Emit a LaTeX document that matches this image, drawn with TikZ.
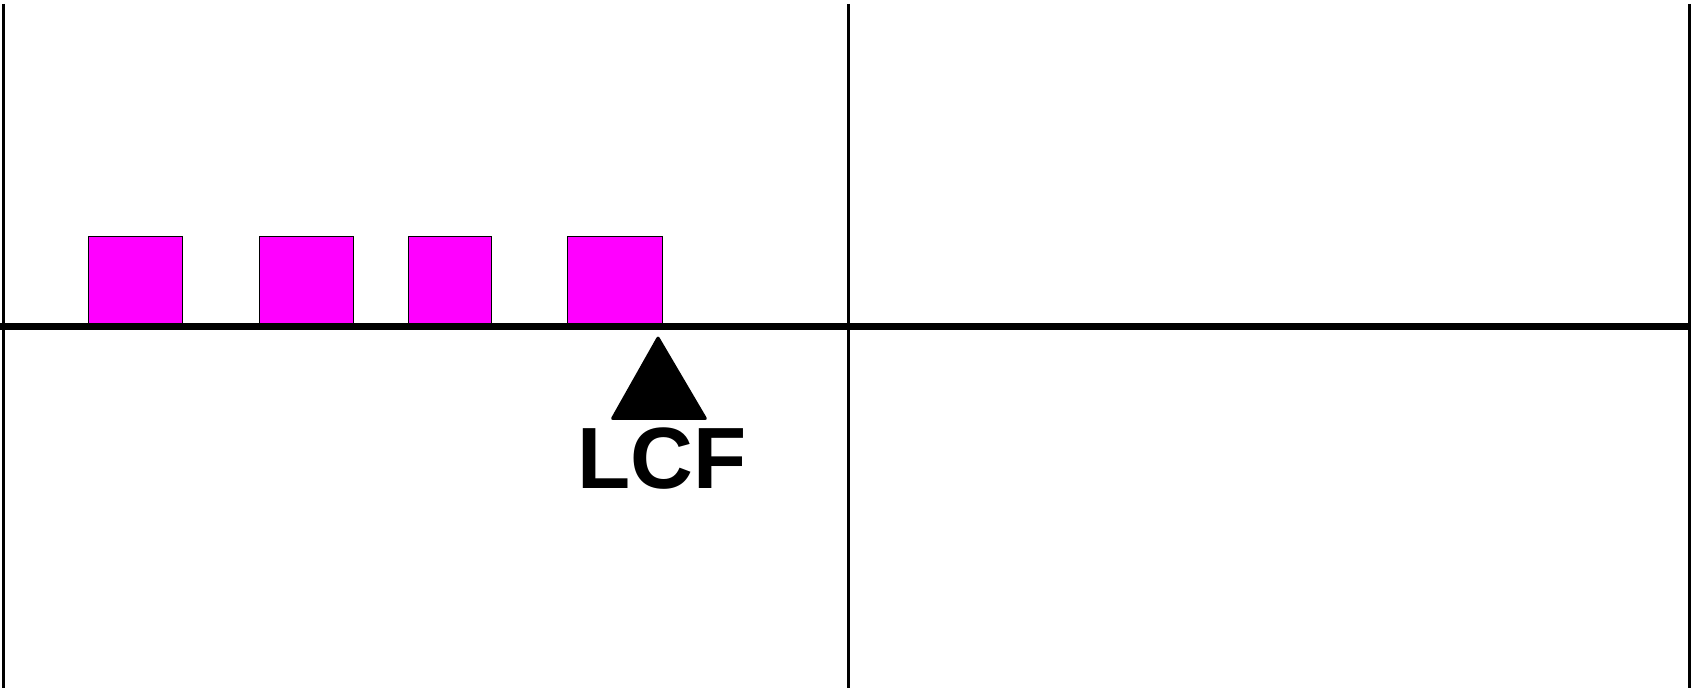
\documentclass[tikz,border=0pt]{standalone}
\usepackage{fontspec}
\setmainfont{Liberation Sans}
\usepackage{xcolor}
\usetikzlibrary{positioning}
\definecolor{loadpink}{RGB}{255,0,255}

\begin{document}
\begin{tikzpicture}[x=1pt,y=-1pt]
  \useasboundingbox (0,0) rectangle (1703,692);
  % frame lines
  \draw[line width=3pt](3.5,4)--(3.5,688);
  \draw[line width=3pt](848.5,4)--(848.5,688);
  \draw[line width=3pt](1689,4)--(1689,688);
  \draw[line width=1pt,black!60](0,323.5)--(767,323.5);
  \draw[line width=7pt](0,327)--(1690,327);
  % loads
  \node[draw,fill=loadpink,line width=0.8pt,minimum width=94pt,minimum height=87pt,
        inner sep=0pt,anchor=north west] (b1) at (88,236){};
  \node[draw,fill=loadpink,line width=0.8pt,minimum width=94pt,minimum height=87pt,
        inner sep=0pt,anchor=north west] (b2) at (259,236){};
  \node[draw,fill=loadpink,line width=0.8pt,minimum width=83pt,minimum height=87pt,
        inner sep=0pt,anchor=north west] (b3) at (408,236){};
  \node[draw,fill=loadpink,line width=0.8pt,minimum width=95pt,minimum height=87pt,
        inner sep=0pt,anchor=north west] (b4) at (567,236){};
  % support
  \fill[rounded corners=3pt](658,335)--(708,420)--(610,420)--cycle;
  \node[font=\fontsize{87}{87}\selectfont\bfseries,inner sep=0pt,anchor=north]
        (lcf) at (662,428){LCF};
\end{tikzpicture}
\end{document}
